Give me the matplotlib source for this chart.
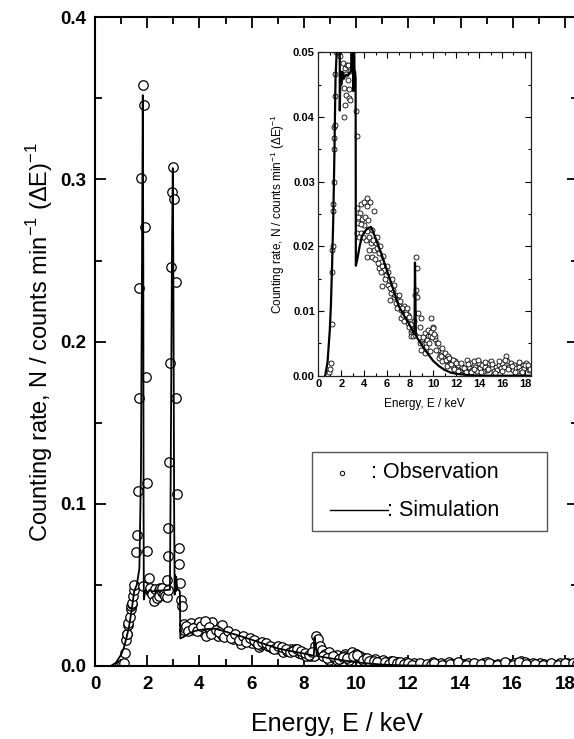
#!/usr/bin/env python3
"""Observed vs simulated counting-rate spectrum with low-rate inset."""

import matplotlib
matplotlib.use("Agg")
import matplotlib.pyplot as plt
from matplotlib.lines import Line2D
from matplotlib.patches import Rectangle
from matplotlib.ticker import MultipleLocator

plt.rcParams["font.family"] = ["Liberation Sans", "DejaVu Sans"]
plt.rcParams["mathtext.fontset"] = "custom"
plt.rcParams["mathtext.rm"] = "Liberation Sans"

obs_e = [
    0.95, 1.05, 1.10, 1.15, 1.20, 1.22, 1.24, 1.26, 1.28, 1.33, 1.36, 1.38,
    1.40, 1.42, 1.45, 1.48, 1.51, 1.57, 1.62, 1.64, 1.68, 1.70, 1.77, 1.83,
    1.88, 1.92, 1.95, 2.00, 2.00, 2.05,
    1.85, 2.10, 2.12, 2.20, 2.27, 2.30, 2.36, 2.44, 2.44, 2.50, 2.56, 2.56,
    2.65, 2.69, 2.74, 2.80,
    2.75, 2.78, 2.81, 2.85, 2.88, 2.90, 2.96, 2.98, 3.04, 3.10, 3.11, 3.15,
    3.21, 3.21, 3.26, 3.30, 3.33,
    3.39, 3.39, 3.44, 3.62, 3.68, 3.68, 3.83, 3.97, 3.97, 4.12, 4.27, 4.27,
    4.27, 4.41, 4.50, 4.56, 4.71, 4.85, 4.85, 5.00, 5.15, 5.30, 5.30, 5.44,
    5.59, 5.59, 5.74, 5.88, 6.03, 6.18, 6.27, 6.33, 6.47, 6.62, 6.77, 6.92,
    7.06, 7.21, 7.21, 7.36, 7.50, 7.65, 7.80, 7.80, 7.94, 8.09, 8.09, 8.24,
    8.38, 8.44, 8.47, 8.53, 8.56, 8.62, 8.68, 8.82, 8.97, 8.97, 9.03, 9.26,
    9.26, 9.41, 9.56, 9.56, 9.71, 9.71, 9.85, 9.85, 10.00, 10.00, 10.15,
    10.15, 10.30, 10.44, 10.59, 10.74, 10.89, 11.03, 11.18, 11.33, 11.47,
    11.62, 11.77, 11.91, 12.06, 12.20, 12.35, 12.50, 12.65, 12.80, 12.94,
    13.10, 13.24, 13.39, 13.54, 13.68, 13.83, 13.98, 14.12, 14.27, 14.42,
    14.56, 14.71, 14.86, 15.00, 15.15, 15.30, 15.44, 15.59, 15.74, 15.89,
    16.03, 16.18, 16.33, 16.47, 16.62, 16.77, 16.92, 17.06, 17.21, 17.36,
    17.51, 17.65, 17.80, 17.95, 18.09, 18.24, 18.39,
]
obs_n = [
    0.0005, 0.0010, 0.0020, 0.0080, 0.0160, 0.0195, 0.0200, 0.0255, 0.0265,
    0.0300, 0.0350, 0.0368, 0.0385, 0.0387, 0.0433, 0.0467, 0.0500, 0.0700,
    0.0810, 0.1080, 0.1650, 0.2330, 0.3010, 0.3580, 0.3460, 0.2710, 0.1780,
    0.1130, 0.0710, 0.0540,
    0.0495, 0.0462, 0.0483, 0.0445, 0.0400, 0.0475, 0.0418, 0.0466, 0.0434,
    0.0480, 0.0457, 0.0481, 0.0444, 0.0430, 0.0426, 0.0471,
    0.0530, 0.0680, 0.0850, 0.1260, 0.1870, 0.2460, 0.2920, 0.3080, 0.2880,
    0.2370, 0.1650, 0.1060, 0.0730, 0.0630, 0.0510, 0.0410, 0.0370,
    0.0259, 0.0220, 0.0236, 0.0251, 0.0266, 0.0220, 0.0243, 0.0269, 0.0233,
    0.0210, 0.0262, 0.0223, 0.0184, 0.0215, 0.0269, 0.0205, 0.0184, 0.0254,
    0.0194, 0.0205, 0.0197, 0.0189, 0.0166, 0.0176, 0.0169, 0.0138, 0.0164,
    0.0156, 0.0140, 0.0148, 0.0117, 0.0128, 0.0133, 0.0122, 0.0112, 0.0117,
    0.0107, 0.0102, 0.0089, 0.0094, 0.0107, 0.0102, 0.0094, 0.0081, 0.0076,
    0.0068, 0.0061, 0.0061, 0.0063, 0.0125, 0.0184, 0.0133, 0.0166, 0.0122,
    0.0097, 0.0076, 0.0089, 0.0040, 0.0056, 0.0066, 0.0035, 0.0050, 0.0071,
    0.0061, 0.0061, 0.0038, 0.0068, 0.0089, 0.0076, 0.0074, 0.0056, 0.0061,
    0.0050, 0.0040, 0.0032, 0.0043, 0.0027, 0.0035, 0.0022, 0.0030, 0.0020,
    0.0025, 0.0014, 0.0022, 0.0012, 0.0017, 0.0009, 0.0014, 0.0007, 0.0009,
    0.0025, 0.0014, 0.0020, 0.0009, 0.0022, 0.0014, 0.0007, 0.0020, 0.0012,
    0.0017, 0.0007, 0.0014, 0.0009, 0.0020, 0.0022, 0.0012, 0.0007, 0.0014,
    0.0009, 0.0017, 0.0012, 0.0020, 0.0014, 0.0030, 0.0022, 0.0014, 0.0020,
    0.0009, 0.0017, 0.0012, 0.0007, 0.0014, 0.0009, 0.0017, 0.0012, 0.0020,
    0.0014, 0.0009,
]
# second pass over the continuum band (points hidden in the dense cloud)
obs_tail_e = [
    3.50, 3.55, 3.75, 3.90, 4.05, 4.20, 4.35, 4.45, 4.65, 4.75, 4.95, 5.10,
    5.20, 5.35, 5.50, 5.65, 5.80, 5.95, 6.10, 6.25, 6.40, 6.55, 6.70, 6.85,
    7.00, 7.15, 7.30, 7.45, 7.60, 7.75, 7.90, 8.05, 8.20, 8.30, 8.75, 8.90,
    9.10, 9.35, 9.50, 9.65, 9.90, 10.05, 10.25, 10.40, 10.50, 10.70, 10.80,
    11.10, 11.25, 11.40, 11.55, 11.70, 11.85, 12.00, 12.15, 12.45, 12.70,
    12.88, 13.00, 13.30, 13.60, 13.90, 14.20, 14.50, 14.80, 15.10, 15.40,
    15.70, 16.00, 16.25, 16.50, 16.85, 17.15, 17.45, 17.75, 18.00, 18.30,
    18.45,
]
obs_tail_n = [
    0.0245, 0.0215, 0.0235, 0.0215, 0.0245, 0.0275, 0.0240, 0.0195, 0.0225,
    0.0210, 0.0180, 0.0215, 0.0175, 0.0200, 0.0160, 0.0185, 0.0150, 0.0170,
    0.0160, 0.0135, 0.0150, 0.0140, 0.0125, 0.0105, 0.0125, 0.0115, 0.0105,
    0.0085, 0.0095, 0.0105, 0.0090, 0.0080, 0.0070, 0.0085, 0.0060, 0.0050,
    0.0060, 0.0045, 0.0055, 0.0050, 0.0060, 0.0065, 0.0040, 0.0050, 0.0028,
    0.0030, 0.0022, 0.0025, 0.0015, 0.0028, 0.0018, 0.0024, 0.0010, 0.0020,
    0.0008, 0.0020, 0.0012, 0.0005, 0.0018, 0.0006, 0.0011, 0.0025, 0.0006,
    0.0021, 0.0011, 0.0018, 0.0004, 0.0022, 0.0008, 0.0024, 0.0010, 0.0015,
    0.0005, 0.0021, 0.0006, 0.0016, 0.0017, 0.0011,
]

# simulated spectrum
sim_e = [
    0.60, 0.80, 1.00, 1.10, 1.20, 1.30, 1.40, 1.50, 1.60, 1.70, 1.76, 1.80,
    1.83, 1.85, 1.86, 1.87, 1.90, 1.95, 2.00, 2.10, 2.20, 2.40, 2.60, 2.80,
    2.87, 2.90, 2.95, 2.98, 3.00, 3.03, 3.05, 3.07, 3.09, 3.11, 3.15, 3.20,
    3.25, 3.27, 3.40, 3.60, 3.80, 4.00, 4.30, 4.60, 5.00, 5.50, 6.00, 6.50,
    7.00, 7.50, 8.00, 8.30, 8.38, 8.42, 8.46, 8.50, 8.70, 9.00, 9.50, 10.00,
    10.50, 11.00, 11.50, 12.00, 13.00, 14.00, 16.00, 18.50,
]
sim_n = [
    0.0000, 0.0020, 0.0070, 0.0110, 0.0170, 0.0240, 0.0340, 0.0460, 0.0500,
    0.0600, 0.1200, 0.2500, 0.3520, 0.2500, 0.1000, 0.0410, 0.0440, 0.0470,
    0.0450, 0.0470, 0.0460, 0.0465, 0.0465, 0.0470, 0.0470, 0.1200, 0.2600,
    0.3070, 0.2500, 0.1000, 0.0440, 0.0560, 0.0460, 0.0550, 0.0470, 0.0470,
    0.0460, 0.0170, 0.0180, 0.0200, 0.0215, 0.0222, 0.0228, 0.0230, 0.0212,
    0.0188, 0.0162, 0.0135, 0.0108, 0.0092, 0.0077, 0.0066, 0.0064, 0.0175,
    0.0120, 0.0062, 0.0056, 0.0048, 0.0035, 0.0023, 0.0015, 0.0009, 0.0005,
    0.0003, 0.0001, 0.0000, 0.0000, 0.0000,
]

W, H = 574, 739
all_e = obs_e + obs_tail_e
all_n = obs_n + obs_tail_n


def style_axes(ax, major, minor, size, width):
    ax.tick_params(which="both", direction="in", top=True, right=True,
                   width=width)
    ax.tick_params(which="major", length=major, labelsize=size)
    ax.tick_params(which="minor", length=minor)
    for label in ax.get_xticklabels() + ax.get_yticklabels():
        label.set_fontweight("bold")


fig = plt.figure(figsize=(W / 100, H / 100), dpi=100)

ax = fig.add_axes([95 / W, 1 - 666 / H, (578 - 95) / W, (666 - 17.3) / H])
ax.plot(sim_e, sim_n, color="black", lw=1.3, zorder=3)
ax.plot(all_e, all_n, ls="none", marker="o", ms=6.8, mfc="white",
        mec="black", mew=0.9, zorder=2)
ax.set_xlim(0, 18.5)
ax.set_ylim(0, 0.4)
ax.xaxis.set_major_locator(MultipleLocator(2))
ax.xaxis.set_minor_locator(MultipleLocator(1))
ax.yaxis.set_minor_locator(MultipleLocator(0.05))
ax.set_yticks([0, 0.1, 0.2, 0.3, 0.4], ["0.0", "0.1", "0.2", "0.3", "0.4"])
style_axes(ax, 8, 5, 13.5, 1.3)
ax.tick_params(axis="x", pad=7)
ax.tick_params(axis="y", pad=6)
for spine in ax.spines.values():
    spine.set_linewidth(1.5)
ax.set_xlabel("Energy, E / keV", fontsize=18, labelpad=14)
ax.set_ylabel(r"Counting rate, N / counts min$^{\mathregular{-1}}$ "
              r"($\mathregular{\Delta}$E)$^{\mathregular{-1}}$",
              fontsize=17, labelpad=4)

# inset: low-rate region
ins = fig.add_axes([318.3 / W, 1 - 375.7 / H, (530.7 - 318.3) / W,
                    (375.7 - 52.3) / H])
ins.plot(sim_e, sim_n, color="black", lw=1.6, zorder=3)
ins.plot(all_e, all_n, ls="none", marker="o", ms=3.6, mfc="white",
         mec="black", mew=0.6, zorder=2)
ins.set_xlim(0, 18.5)
ins.set_ylim(0, 0.05)
ins.xaxis.set_major_locator(MultipleLocator(2))
ins.xaxis.set_minor_locator(MultipleLocator(1))
ins.set_yticks([0, 0.01, 0.02, 0.03, 0.04, 0.05],
               ["0.00", "0.01", "0.02", "0.03", "0.04", "0.05"])
ins.yaxis.set_minor_locator(MultipleLocator(0.005))
style_axes(ins, 4, 2.2, 8, 0.8)
ins.tick_params(pad=2.5)
for spine in ins.spines.values():
    spine.set_linewidth(0.9)
    spine.set_color("#222222")
ins.set_xlabel("Energy, E / keV", fontsize=8.5, labelpad=6)
ins.set_ylabel(r"Counting rate, N / counts min$^{\mathregular{-1}}$ "
               r"($\mathregular{\Delta}$E)$^{\mathregular{-1}}$",
               fontsize=8.5, labelpad=4)

# hand-built legend box
fig.patches.append(Rectangle((312 / W, 1 - 531 / H), 235 / W, 79 / H,
                             transform=fig.transFigure, fill=False,
                             edgecolor="#555555", lw=1.0))
fig.add_artist(Line2D([342 / W], [1 - 473 / H], transform=fig.transFigure,
                      ls="none", marker="o", ms=3.2, mfc="white",
                      mec="black", mew=0.7))
fig.text(371 / W, 1 - 473 / H, ": Observation", fontsize=15.5,
         va="center", ha="left")
fig.add_artist(Line2D([330 / W, 388 / W], [1 - 510 / H, 1 - 510 / H],
                      transform=fig.transFigure, color="black", lw=1.0))
fig.text(387 / W, 1 - 510 / H, ": Simulation", fontsize=15.5,
         va="center", ha="left")

fig.savefig("out.png", dpi=100)
